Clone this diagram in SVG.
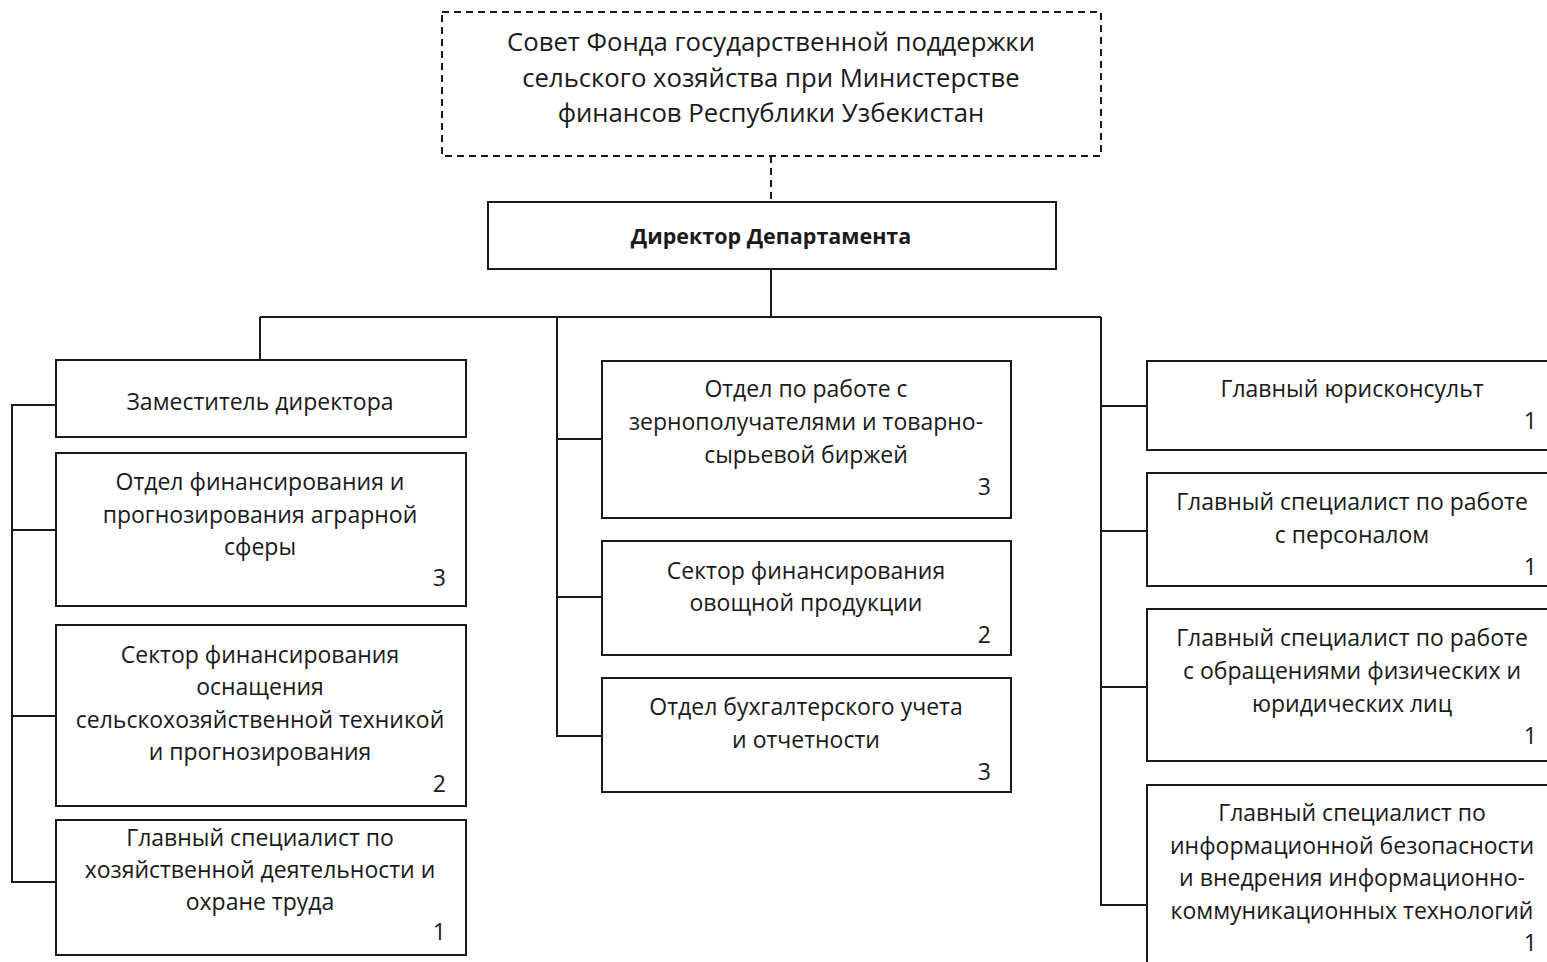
<svg xmlns="http://www.w3.org/2000/svg" width="1547" height="962" viewBox="0 0 1547 962">
<style>
.b{fill:#fff;stroke:#1a1a1a;stroke-width:2}
.d{fill:#fff;stroke:#1a1a1a;stroke-width:2;stroke-dasharray:7 5}
.t{font-family:"Open Sans","Noto Sans",sans-serif;font-size:23px;fill:#1a1a1a;text-anchor:middle}
.h{font-size:25.7px}
.bold{font-size:21.5px;font-weight:bold}
.n{font-family:"Open Sans","Noto Sans",sans-serif;font-size:23px;fill:#1a1a1a;text-anchor:end}
.c{fill:none;stroke:#1a1a1a;stroke-width:2}
</style>
<rect width="1547" height="962" fill="#fff"/>
<g id="connectors">
<line x1="771" y1="156" x2="771" y2="202" class="c" stroke-dasharray="7 5"/>
<path class="c" d="M771 269V317M260 317H1101M260 317V360"/>
<path class="c" d="M56 405H12V882H56M12 530H56M12 716H56"/>
<path class="c" d="M557 317V736H602M557 439H602M557 597H602"/>
<path class="c" d="M1101 317V905H1147M1101 406H1147M1101 531H1147M1101 687H1147"/>
</g>
<g id="sovet">
<rect class="d" x="442" y="12" width="659" height="144"/>
<text class="t h" x="771" y="51">Совет Фонда государственной поддержки</text>
<text class="t h" x="771" y="87">сельского хозяйства при Министерстве</text>
<text class="t h" x="771" y="122">финансов Республики Узбекистан</text>
</g>
<g id="director">
<rect class="b" x="488" y="202" width="568" height="67"/>
<text class="t bold" x="771" y="244">Директор Департамента</text>
</g>
<g id="zam">
<rect class="b" x="56" y="360" width="410" height="77"/>
<text class="t" x="260" y="410">Заместитель директора</text>
</g>
<g id="otdel-fin">
<rect class="b" x="56" y="453" width="410" height="153"/>
<text class="t" x="260" y="490">Отдел финансирования и</text>
<text class="t" x="260" y="523">прогнозирования аграрной</text>
<text class="t" x="260" y="555">сферы</text>
<text class="n" x="446" y="586">3</text>
</g>
<g id="sektor-tech">
<rect class="b" x="56" y="625" width="410" height="181"/>
<text class="t" x="260" y="663">Сектор финансирования</text>
<text class="t" x="260" y="695">оснащения</text>
<text class="t" x="260" y="728">сельскохозяйственной техникой</text>
<text class="t" x="260" y="760">и прогнозирования</text>
<text class="n" x="446" y="792">2</text>
</g>
<g id="spec-hoz">
<rect class="b" x="56" y="820" width="410" height="135"/>
<text class="t" x="260" y="846">Главный специалист по</text>
<text class="t" x="260" y="878">хозяйственной деятельности и</text>
<text class="t" x="260" y="910">охране труда</text>
<text class="n" x="446" y="940">1</text>
</g>
<g id="otdel-zerno">
<rect class="b" x="602" y="361" width="409" height="157"/>
<text class="t" x="806" y="397">Отдел по работе с</text>
<text class="t" x="806" y="430">зернополучателями и товарно-</text>
<text class="t" x="806" y="463">сырьевой биржей</text>
<text class="n" x="991" y="495">3</text>
</g>
<g id="sektor-ovosh">
<rect class="b" x="602" y="541" width="409" height="114"/>
<text class="t" x="806" y="579">Сектор финансирования</text>
<text class="t" x="806" y="611">овощной продукции</text>
<text class="n" x="991" y="643">2</text>
</g>
<g id="otdel-buh">
<rect class="b" x="602" y="678" width="409" height="114"/>
<text class="t" x="806" y="715">Отдел бухгалтерского учета</text>
<text class="t" x="806" y="748">и отчетности</text>
<text class="n" x="991" y="780">3</text>
</g>
<g id="yurist">
<rect class="b" x="1147" y="361" width="420" height="89"/>
<text class="t" x="1352" y="397">Главный юрисконсульт</text>
<text class="n" x="1537" y="429">1</text>
</g>
<g id="spec-personal">
<rect class="b" x="1147" y="473" width="420" height="113"/>
<text class="t" x="1352" y="510">Главный специалист по работе</text>
<text class="t" x="1352" y="543">с персоналом</text>
<text class="n" x="1537" y="575">1</text>
</g>
<g id="spec-obr">
<rect class="b" x="1147" y="609" width="420" height="152"/>
<text class="t" x="1352" y="646">Главный специалист по работе</text>
<text class="t" x="1352" y="679">с обращениями физических и</text>
<text class="t" x="1352" y="712">юридических лиц</text>
<text class="n" x="1537" y="744">1</text>
</g>
<g id="spec-it">
<rect class="b" x="1147" y="785" width="420" height="200"/>
<text class="t" x="1352" y="821">Главный специалист по</text>
<text class="t" x="1352" y="854">информационной безопасности</text>
<text class="t" x="1352" y="886">и внедрения информационно-</text>
<text class="t" x="1352" y="919">коммуникационных технологий</text>
<text class="n" x="1537" y="951">1</text>
</g>
</svg>
